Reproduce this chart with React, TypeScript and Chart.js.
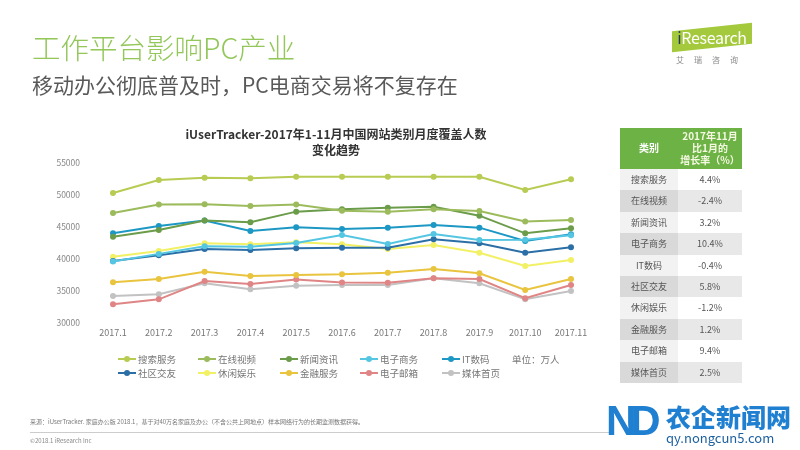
import React, { useEffect, useRef } from 'react';
import { Chart, registerables } from 'chart.js';

Chart.register(...registerables);

const FONT = '"Noto Sans CJK SC", "Noto Sans", sans-serif';

const months = ['2017.1', '2017.2', '2017.3', '2017.4', '2017.5', '2017.6', '2017.7', '2017.8', '2017.9', '2017.10', '2017.11'];

const seriesNames = ['搜索服务', '在线视频', '新闻资讯', '电子商务', 'IT数码', '社区交友', '休闲娱乐', '金融服务', '电子邮箱', '媒体首页'];
const seriesColors = ['#b8cb52', '#9cbb5c', '#6b9c4a', '#55c6e2', '#1d98c4', '#2b6fa6', '#f2f065', '#e9c43f', '#e08585', '#c2c2c2'];

const searchService = [50300, 52350, 52700, 52600, 52850, 52850, 52850, 52850, 52850, 50800, 52450];
const onlineVideo = [47200, 48500, 48550, 48300, 48500, 47550, 47400, 47770, 47500, 45850, 46100];
const newsInfo = [43480, 44530, 46000, 45730, 47400, 47770, 48020, 48180, 46770, 44010, 44800];
const eCommerce = [39600, 40800, 42000, 41900, 42500, 43750, 42340, 43900, 42970, 43000, 43700];
const itDigital = [44010, 45160, 46000, 44380, 44950, 44690, 44890, 45310, 44900, 42800, 43850];
const community = [39700, 40600, 41560, 41400, 41670, 41770, 41770, 43080, 42450, 40980, 41830];
const leisure = [40360, 41250, 42450, 42300, 42600, 42300, 41560, 42190, 40980, 38900, 39840];
const finance = [36360, 36880, 38020, 37340, 37500, 37600, 37860, 38440, 37760, 35160, 36880];
const email = [32920, 33700, 36560, 36090, 36810, 36340, 36300, 36980, 36880, 33860, 35940];
const mediaHome = [34220, 34480, 36200, 35270, 35830, 35940, 35940, 36980, 36200, 33700, 35000];

const seriesData = [searchService, onlineVideo, newsInfo, eCommerce, itDigital, community, leisure, finance, email, mediaHome];

const yMin = 30000;
const yMax = 55000;
const yStep = 5000;

const tableCategories = ['搜索服务', '在线视频', '新闻资讯', '电子商务', 'IT数码', '社区交友', '休闲娱乐', '金融服务', '电子邮箱', '媒体首页'];
const growthRates = ['4.4%', '-2.4%', '3.2%', '10.4%', '-0.4%', '5.8%', '-1.2%', '1.2%', '9.4%', '2.5%'];

const legendColumnsX = [118, 198, 280, 360, 442];
const legendRowsY = [359, 373];

const abs = (s: React.CSSProperties): React.CSSProperties => ({ position: 'absolute', margin: 0, whiteSpace: 'nowrap', fontFamily: FONT, ...s });

export default function App() {
  const canvasRef = useRef<HTMLCanvasElement | null>(null);

  useEffect(() => {
    if (!canvasRef.current) return;
    const chart = new Chart(canvasRef.current, {
      type: 'line',
      data: {
        labels: months,
        datasets: seriesNames.map((name, i) => ({
          label: name,
          data: seriesData[i],
          borderColor: seriesColors[i],
          backgroundColor: seriesColors[i],
          pointBackgroundColor: seriesColors[i],
          pointBorderColor: seriesColors[i],
          pointRadius: 3,
          pointBorderWidth: 0,
          borderWidth: 2,
          tension: 0,
          fill: false,
        })),
      },
      options: {
        animation: false,
        responsive: false,
        maintainAspectRatio: false,
        layout: { padding: { left: 20, right: 229, top: 163, bottom: 107 } },
        plugins: {
          legend: { display: false },
          title: { display: false },
          tooltip: { enabled: false },
        },
        scales: {
          x: {
            grid: { display: false, drawTicks: false },
            border: { display: false },
            ticks: { color: '#777', font: { size: 9, family: FONT }, padding: 4, maxRotation: 0, autoSkip: false },
            afterFit: (s: any) => { s.height = 20; },
          },
          y: {
            min: yMin,
            max: yMax,
            grid: { display: false, drawTicks: false },
            border: { display: false },
            ticks: { stepSize: yStep, color: '#888', font: { size: 8.5, family: FONT }, padding: 33, callback: (v: any) => String(v) },
            afterFit: (s: any) => { s.width = 93; },
          },
        },
      },
    });
    return () => chart.destroy();
  }, []);

  const rowTop = 169;
  const rowH = 21.4;

  return (
    <div style={{ position: 'fixed', left: 0, top: 0, width: 800, height: 450, background: '#fff', overflow: 'hidden', fontFamily: FONT }}>
      <canvas ref={canvasRef} width={800} height={450} style={{ position: 'absolute', left: 0, top: 0, width: 800, height: 450 }} />

      <div style={abs({ left: 32, top: 32, fontSize: 28.5, lineHeight: '30px', color: '#93c75a', fontWeight: 300 })}>工作平台影响PC产业</div>
      <div style={abs({ left: 32, top: 72, fontSize: 21, lineHeight: '24px', color: '#595959' })}>移动办公彻底普及时，PC电商交易将不复存在</div>

      <div style={{ position: 'absolute', left: 672, top: 27, width: 80, height: 21, background: '#a4c93c', transform: 'skewY(-6deg)' }} />
      <div style={abs({ left: 672, top: 26, fontSize: 16, lineHeight: '22px', color: '#fff', width: 80, textAlign: 'center', letterSpacing: -0.3 })}>
        <span style={{ color: '#1f3c5a' }}>i</span>Research
      </div>
      <div style={abs({ left: 676, top: 55, fontSize: 8, lineHeight: '10px', color: '#888', letterSpacing: 10 })}>艾瑞咨询</div>

      <div style={abs({ left: 136, width: 400, top: 126, fontSize: 12, lineHeight: '16px', color: '#333', fontWeight: 700, textAlign: 'center' })}>
        iUserTracker-2017年1-11月中国网站类别月度覆盖人数<br />变化趋势
      </div>

      {seriesNames.map((name, i) => {
        const x = legendColumnsX[i % 5];
        const y = legendRowsY[Math.floor(i / 5)];
        return (
          <React.Fragment key={name}>
            <div style={{ position: 'absolute', left: x, top: y - 1, width: 18, height: 2, background: seriesColors[i] }} />
            <div style={{ position: 'absolute', left: x + 6, top: y - 3, width: 6, height: 6, borderRadius: 3, background: seriesColors[i] }} />
            <div style={abs({ left: x + 20, top: y - 7, fontSize: 9.5, lineHeight: '14px', color: '#777' })}>{name}</div>
          </React.Fragment>
        );
      })}
      <div style={abs({ left: 512, top: 359 - 7, fontSize: 9.5, lineHeight: '14px', color: '#777' })}>单位：万人</div>

      <div style={{ position: 'absolute', left: 620, top: 128, width: 122, height: rowTop - 128, background: '#6db244' }} />
      <div style={abs({ left: 620, width: 58, top: 141, fontSize: 10, lineHeight: '14px', color: '#fff', fontWeight: 700, textAlign: 'center' })}>类别</div>
      <div style={abs({ left: 678, width: 64, top: 130, fontSize: 10, lineHeight: '12px', color: '#f4f8e2', fontWeight: 700, textAlign: 'center' })}>
        2017年11月<br />比1月的<br />增长率（%）
      </div>
      {tableCategories.map((cat, i) => {
        const top = rowTop + i * rowH;
        const odd = i % 2 === 1;
        return (
          <React.Fragment key={cat}>
            <div style={{ position: 'absolute', left: 620, top, width: 58, height: rowH + 0.5, background: odd ? '#d9d9d9' : '#f2f2f2' }} />
            <div style={{ position: 'absolute', left: 678, top, width: 64, height: rowH + 0.5, background: odd ? '#e8e8e8' : '#ffffff' }} />
            <div style={abs({ left: 620, width: 58, top: top + 4, fontSize: 9, lineHeight: '13px', color: '#555', textAlign: 'center' })}>{cat}</div>
            <div style={abs({ left: 678, width: 64, top: top + 4, fontSize: 9, lineHeight: '13px', color: '#555', textAlign: 'center' })}>{growthRates[i]}</div>
          </React.Fragment>
        );
      })}

      <div style={abs({ left: 30, top: 418, fontSize: 6, lineHeight: '8px', color: '#777' })}>
        来源：iUserTracker. 家庭办公版 2018.1，基于对40万名家庭及办公（不含公共上网地点）样本网络行为的长期监测数据获得。
      </div>
      <div style={{ position: 'absolute', left: 30, top: 432, width: 580, height: 1, background: '#ccc' }} />
      <div style={abs({ left: 30, top: 437, fontSize: 6, lineHeight: '8px', color: '#888' })}>©2018.1 iResearch Inc</div>

      <div style={abs({ left: 606, top: 398, fontSize: 42, lineHeight: '46px', color: '#1f7fd1', fontWeight: 900, letterSpacing: -6, fontFamily: 'Arial, "Liberation Sans", sans-serif' })}>ND</div>
      <div style={abs({ left: 666, top: 402, fontSize: 25, lineHeight: '28px', color: '#1f7fd1', fontWeight: 900 })}>农企新闻网</div>
      <div style={abs({ left: 666, top: 430, fontSize: 13, lineHeight: '15px', color: '#1b5f9e' })}>qy.nongcun5.com</div>
    </div>
  );
}
